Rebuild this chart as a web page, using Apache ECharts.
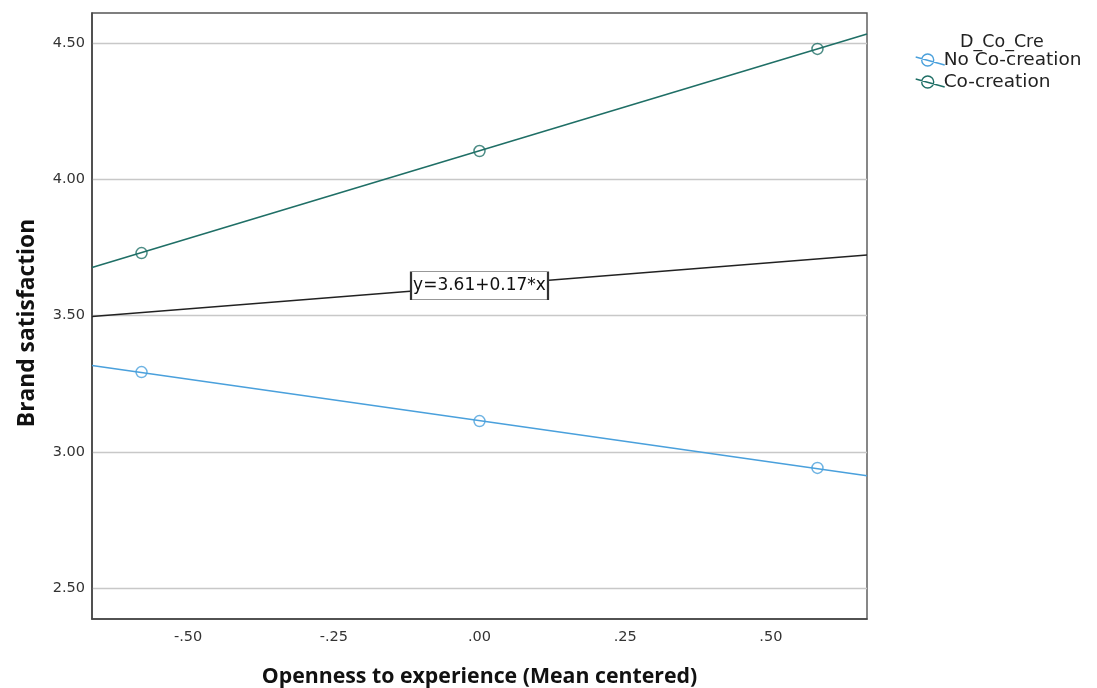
<!DOCTYPE html>
<html>
<head>
<meta charset="utf-8">
<script src="https://cdn.jsdelivr.net/npm/echarts@6/dist/echarts.min.js"></script>
<style>
  html, body { margin: 0; padding: 0; background: #fff; }
  #chart { width: 1097px; height: 688px; }
</style>
</head>
<body>
<div id="chart"></div>
<script>
// Axis extents and tick positions
const xRange = [-0.665, 0.665];
const yRange = [2.386, 4.612];
const xTicks = [-0.5, -0.25, 0, 0.25, 0.5];
const yTicks = [2.5, 3.0, 3.5, 4.0, 4.5];

// Groups and their means at -1 SD, mean, +1 SD of openness
const groups = ['No Co-creation', 'Co-creation'];
const meanX = [-0.58, 0, 0.58];
const noCoMeans = [3.293, 3.113, 2.941];
const coMeans = [3.730, 4.105, 4.480];
// Group lines at the left and right edge of the plot
const noCoEdges = [3.317, 2.912];
const coEdges = [3.677, 4.535];

// Overall fit line
const fitIntercept = 3.61;
const fitSlope = 0.17;
const fitLabel = 'y=3.61+0.17*x';

const colors = ['#4aa0dc', '#1f6f66'];
const fitColor = '#222222';

function pairs(xs, ys) { return xs.map((x, i) => [x, ys[i]]); }
function fmtX(v) {
  const s = Math.abs(v).toFixed(2).replace(/^0/, '');
  return (v < 0 ? '-' : '') + s;
}

const fitData = xRange.map(x => [x, fitIntercept + fitSlope * x]);

const legendIcon = 'path://M0,3L29,11M6,6A6,6,0,1,1,18,6A6,6,0,1,1,6,6Z';

const chart = echarts.init(document.getElementById('chart'), null, { renderer: 'canvas' });

chart.setOption({
  animation: false,
  backgroundColor: '#ffffff',
  textStyle: { fontFamily: 'DejaVu Sans' },
  title: {
    text: 'D_Co_Cre',
    left: 960,
    top: 31,
    padding: 0,
    textStyle: { fontFamily: 'DejaVu Sans', fontSize: 17.5, fontWeight: 'normal', color: '#222', lineHeight: 22 }
  },
  legend: {
    orient: 'vertical',
    left: 915,
    top: 49,
    padding: 0,
    itemWidth: 29,
    itemHeight: 12,
    itemGap: 0,
    icon: legendIcon,
    data: groups.map((g, i) => ({
      name: g,
      itemStyle: { color: 'rgba(0,0,0,0)', borderColor: colors[i], borderWidth: 1.4 }
    })),
    textStyle: {
      fontFamily: 'DejaVu Sans', fontSize: 18.5, color: '#222',
      lineHeight: 22, padding: [0, 0, 0, -6]
    }
  },
  grid: {
    left: 92, right: 230, top: 13, bottom: 69,
    outerBoundsMode: 'none',
    show: true, borderColor: '#555', borderWidth: 1.4, backgroundColor: '#fff'
  },
  xAxis: {
    type: 'value',
    min: xRange[0], max: xRange[1],
    name: 'Openness to experience (Mean centered)',
    nameLocation: 'middle',
    nameGap: 47,
    nameTextStyle: { fontFamily: 'Open Sans', fontWeight: 'bold', fontSize: 21.3, color: '#111' },
    axisLine: { show: true, onZero: false, lineStyle: { color: '#444', width: 1.6 } },
    axisTick: { show: false, customValues: xTicks },
    axisLabel: {
      customValues: xTicks, formatter: fmtX, margin: 11,
      fontFamily: 'DejaVu Sans', fontSize: 14.5, color: '#333'
    },
    splitLine: { show: false }
  },
  yAxis: {
    type: 'value',
    min: yRange[0], max: yRange[1],
    name: 'Brand satisfaction',
    nameLocation: 'middle',
    nameGap: 53,
    nameTextStyle: {
      fontFamily: 'Open Sans', fontWeight: 'bold', fontSize: 22.8, color: '#111',
      padding: [0, 0, 0, -14]
    },
    axisLine: { show: true, onZero: false, lineStyle: { color: '#444', width: 1.6 } },
    axisTick: { show: false, customValues: yTicks },
    axisLabel: {
      customValues: yTicks, formatter: v => v.toFixed(2), margin: 7,
      fontFamily: 'DejaVu Sans', fontSize: 14.5, color: '#333'
    },
    splitLine: { show: true, lineStyle: { color: '#c8c8c8', width: 1.3 } }
  },
  series: [
    {
      name: groups[0], type: 'line', data: pairs(xRange, noCoEdges),
      showSymbol: false, symbol: 'none', z: 3,
      lineStyle: { color: colors[0], width: 1.6 }, itemStyle: { color: colors[0] }
    },
    {
      name: groups[1], type: 'line', data: pairs(xRange, coEdges),
      showSymbol: false, symbol: 'none', z: 3,
      lineStyle: { color: colors[1], width: 1.6 }, itemStyle: { color: colors[1] }
    },
    {
      name: groups[0], type: 'scatter', data: pairs(meanX, noCoMeans),
      symbol: 'circle', symbolSize: 11, z: 4,
      itemStyle: { color: 'rgba(0,0,0,0)', borderColor: colors[0], borderWidth: 1.5 }
    },
    {
      name: groups[1], type: 'scatter', data: pairs(meanX, coMeans),
      symbol: 'circle', symbolSize: 11, z: 4,
      itemStyle: { color: 'rgba(0,0,0,0)', borderColor: colors[1], borderWidth: 1.5 }
    },
    {
      name: 'Fit', type: 'line', data: fitData,
      showSymbol: false, symbol: 'none', z: 3,
      lineStyle: { color: fitColor, width: 1.5 },
      markPoint: {
        silent: true,
        symbol: 'rect',
        symbolSize: [137, 28],
        itemStyle: { color: '#fff', borderColor: '#333', borderWidth: 1 },
        label: {
          show: true, position: 'inside', formatter: fitLabel,
          fontFamily: 'DejaVu Sans', fontSize: 17, color: '#111'
        },
        data: [{ coord: [0, fitIntercept + fitSlope * 0] }]
      }
    }
  ]
});
</script>
</body>
</html>
